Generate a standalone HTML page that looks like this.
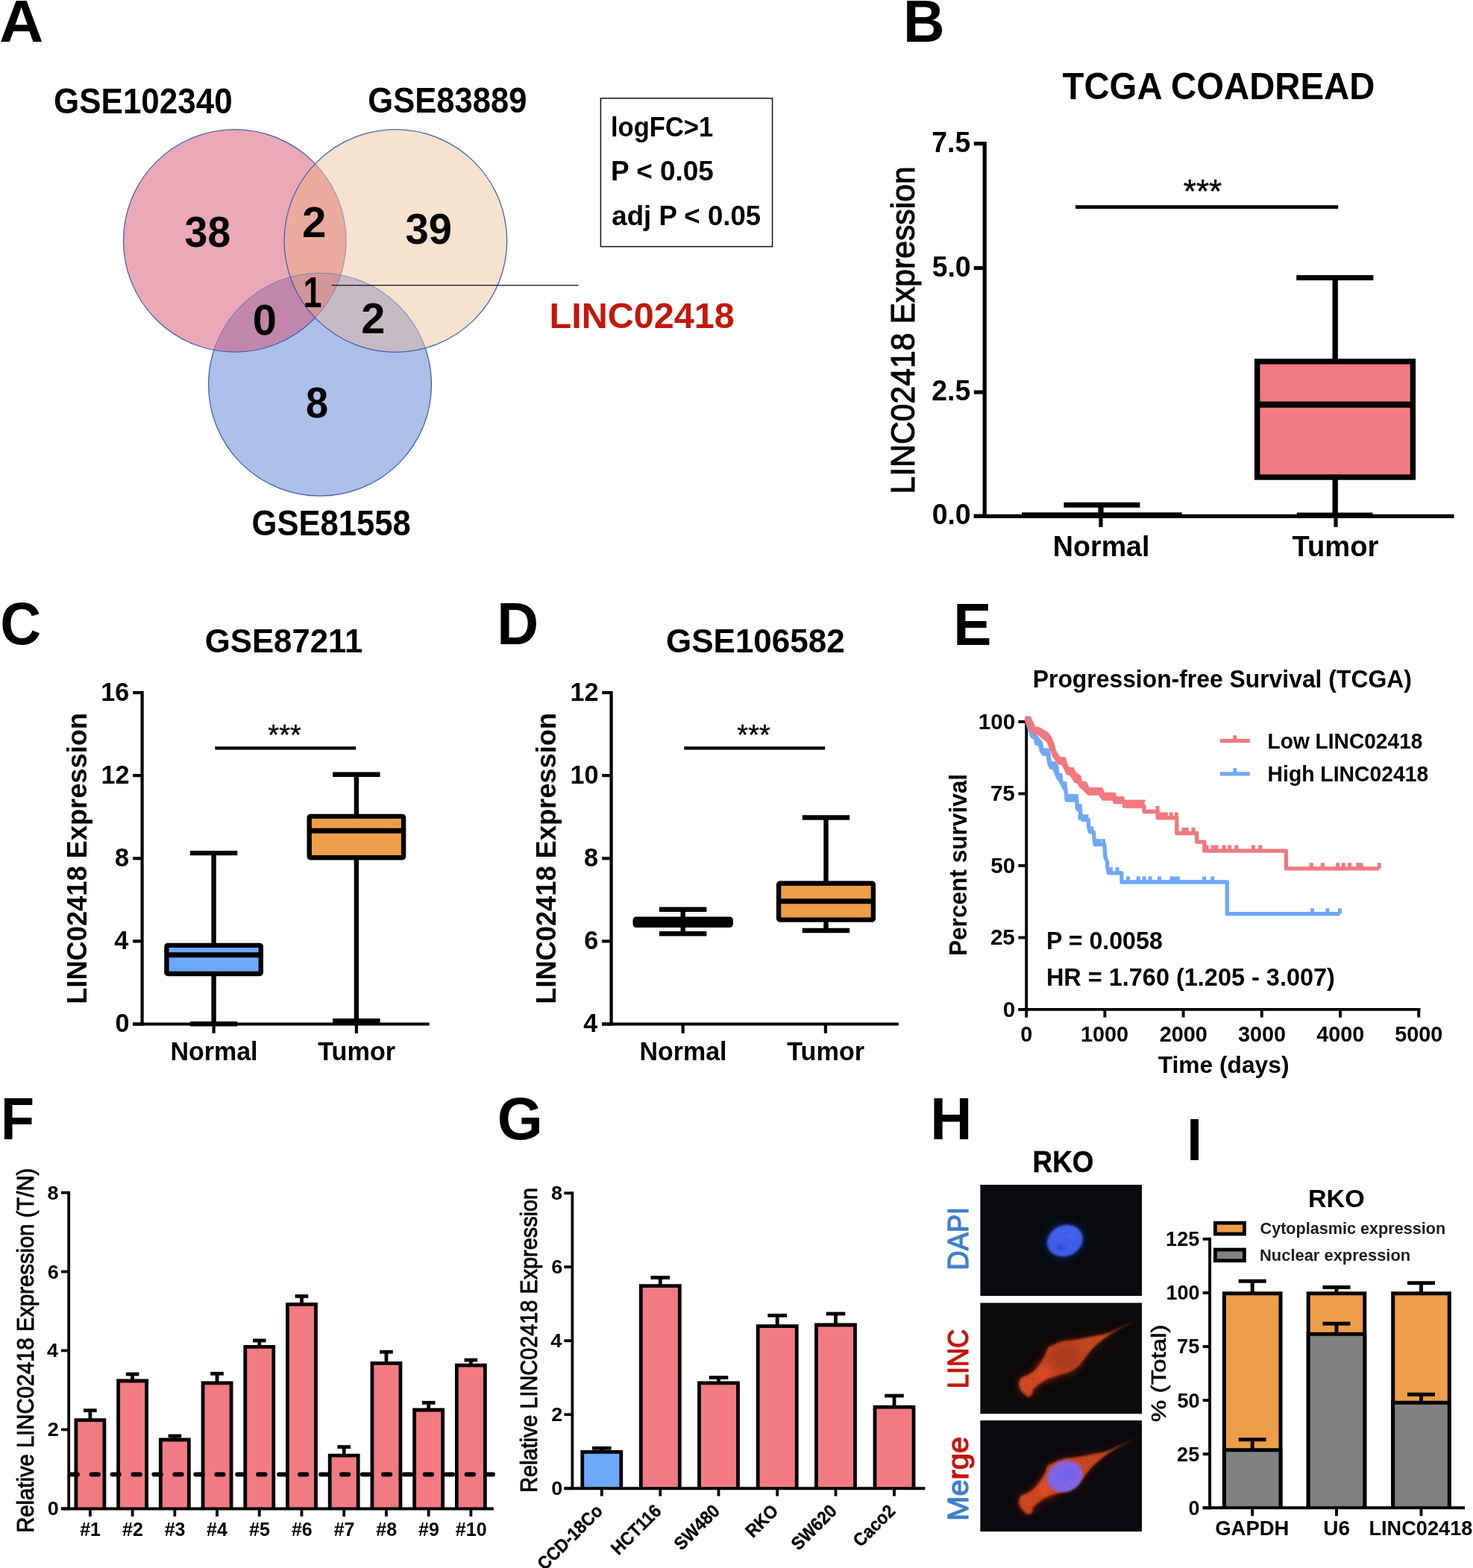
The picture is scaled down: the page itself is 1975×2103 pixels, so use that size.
<!DOCTYPE html>
<html lang="en">
<head>
<meta charset="utf-8">
<title>LINC02418 expression in colorectal cancer</title>
<style>
html,body{margin:0;padding:0;background:#fff;}
body{width:1975px;height:2103px;}
svg{display:block;font-family:'Liberation Sans', Arial, Helvetica, sans-serif;}
text{white-space:pre;}
</style>
</head>
<body>
<svg width="1975" height="2103" viewBox="0 0 1975 2103" role="img" aria-label="LINC02418 expression figure, panels A to I">
<rect width="1975" height="2103" fill="#fff"/>
<g id="panelA">
<text transform="translate(-1.05 56) scale(1.0299 1)" font-size="79.71" font-weight="bold" fill="#000">A</text>
<defs><clipPath id="cP"><circle cx="314.8" cy="322.9" r="149.3"/></clipPath><clipPath id="cB"><circle cx="530.4" cy="323" r="149.3"/></clipPath></defs>
<circle cx="314.8" cy="322.9" r="149.3" fill="#EBA8B6"/>
<circle cx="530.4" cy="323" r="149.3" fill="#F5E2CF"/>
<circle cx="429" cy="515.7" r="149.5" fill="#ADC0E9"/>
<circle cx="530.4" cy="323" r="149.3" fill="#EBAB9F" clip-path="url(#cP)"/>
<circle cx="429" cy="515.7" r="149.5" fill="#C286AC" clip-path="url(#cP)"/>
<circle cx="429" cy="515.7" r="149.5" fill="#C8BAC4" clip-path="url(#cB)"/>
<g clip-path="url(#cP)">
<circle cx="429" cy="515.7" r="149.5" fill="#D3969A" clip-path="url(#cB)"/>
</g>
<defs><mask id="mU" maskUnits="userSpaceOnUse" x="150" y="160" width="560" height="520"><rect x="150" y="160" width="560" height="520" fill="#fff"/><circle cx="314.8" cy="322.9" r="148.7" fill="#707070"/><circle cx="530.4" cy="323" r="148.7" fill="#707070"/></mask><mask id="mP" maskUnits="userSpaceOnUse" x="150" y="160" width="560" height="520"><rect x="150" y="160" width="560" height="520" fill="#fff"/><circle cx="530.4" cy="323" r="148.7" fill="#707070"/></mask></defs>
<circle cx="429" cy="515.7" r="149.5" fill="none" stroke="#3558AC" stroke-width="1.25" stroke-opacity="0.95" mask="url(#mU)"/>
<circle cx="314.8" cy="322.9" r="149.3" fill="none" stroke="#3558AC" stroke-width="1.25" stroke-opacity="0.95" mask="url(#mP)"/>
<circle cx="530.4" cy="323" r="149.3" fill="none" stroke="#3558AC" stroke-width="1.25" stroke-opacity="0.95"/>
<line x1="444.6" y1="382.6" x2="775.4" y2="382.6" stroke="#111" stroke-width="1.3"/>
<text transform="translate(72.04 151.5) scale(0.9197 1)" font-size="47.83" font-weight="bold" fill="#000">GSE102340</text>
<text transform="translate(493.26 151.3) scale(0.9119 1)" font-size="47.83" font-weight="bold" fill="#000">GSE83889</text>
<text transform="translate(337.56 718.3) scale(0.9118 1)" font-size="47.83" font-weight="bold" fill="#000">GSE81558</text>
<text transform="translate(247.62 330.7) scale(0.9549 1)" font-size="57.97" font-weight="bold" fill="#000">38</text>
<text transform="translate(404.96 318) scale(1.0063 1)" font-size="57.97" font-weight="bold" fill="#000">2</text>
<text transform="translate(543.6 327) scale(0.9693 1)" font-size="57.97" font-weight="bold" fill="#000">39</text>
<text transform="translate(406.56 411.6) scale(0.799 1)" font-size="56.52" font-weight="bold" fill="#000">1</text>
<text transform="translate(338.68 449) scale(0.9987 1)" font-size="57.97" font-weight="bold" fill="#000">0</text>
<text transform="translate(484.28 447) scale(0.9955 1)" font-size="57.97" font-weight="bold" fill="#000">2</text>
<text transform="translate(409.98 560.3) scale(0.9339 1)" font-size="57.97" font-weight="bold" fill="#000">8</text>
<rect x="805.4" y="131.8" width="230.2" height="198.9" fill="#fff" stroke="#111" stroke-width="1.5"/>
<text transform="translate(818.98 183.1) scale(0.917 1)" font-size="37.68" font-weight="bold" fill="#000">logFC&gt;1</text>
<text transform="translate(819 242) scale(0.9803 1)" font-size="37.68" font-weight="bold" fill="#000">P &lt; 0.05</text>
<text transform="translate(820.3 301.7) scale(0.9724 1)" font-size="37.68" font-weight="bold" fill="#000">adj P &lt; 0.05</text>
<text transform="translate(736.54 440.2)" font-size="48.55" font-weight="bold" fill="#C4170C">LINC02418</text>
</g>
<g id="panelB">
<text transform="translate(1210.99 56) scale(0.9666 1)" font-size="79.71" font-weight="bold" fill="#000">B</text>
<text transform="translate(1424.53 133.3) scale(0.944 1)" font-size="50.14" font-weight="bold" fill="#000">TCGA COADREAD</text>
<line x1="1320.2" y1="190" x2="1320.2" y2="694.9" stroke="#000" stroke-width="5.2"/>
<line x1="1305.8" y1="192.6" x2="1320.2" y2="192.6" stroke="#000" stroke-width="5.2"/>
<text transform="translate(1249.28 203.6) scale(0.965 1)" font-size="38.8" font-weight="bold" fill="#000">7.5</text>
<line x1="1305.8" y1="359.5" x2="1320.2" y2="359.5" stroke="#000" stroke-width="5.2"/>
<text transform="translate(1249.65 370.5) scale(0.965 1)" font-size="38.8" font-weight="bold" fill="#000">5.0</text>
<line x1="1305.8" y1="526" x2="1320.2" y2="526" stroke="#000" stroke-width="5.2"/>
<text transform="translate(1249.28 537) scale(0.965 1)" font-size="38.8" font-weight="bold" fill="#000">2.5</text>
<line x1="1305.8" y1="692.3" x2="1320.2" y2="692.3" stroke="#000" stroke-width="5.2"/>
<text transform="translate(1249.65 703.3) scale(0.965 1)" font-size="38.8" font-weight="bold" fill="#000">0.0</text>
<line x1="1305.8" y1="692.3" x2="1949.6" y2="692.3" stroke="#000" stroke-width="5.2"/>
<line x1="1476" y1="692.3" x2="1476" y2="706.9" stroke="#000" stroke-width="5.2"/>
<line x1="1791" y1="692.3" x2="1791" y2="706.9" stroke="#000" stroke-width="5.2"/>
<text transform="translate(1225.6 662.42) rotate(-90) scale(0.9596 1)" font-size="44.5" font-weight="normal" fill="#000" stroke="#000" stroke-width="1.1" stroke-linejoin="round">LINC02418 Expression</text>
<text transform="translate(1586.87 271.5)" font-size="44" font-weight="normal" fill="#000" stroke="#000" stroke-width="0.5" stroke-linejoin="round">***</text>
<line x1="1442" y1="277.6" x2="1794.2" y2="277.6" stroke="#000" stroke-width="4.8"/>
<line x1="1476" y1="677.3" x2="1476" y2="692" stroke="#000" stroke-width="7.2"/>
<line x1="1426.4" y1="677.3" x2="1528.4" y2="677.3" stroke="#000" stroke-width="7"/>
<line x1="1370" y1="690.3" x2="1584.6" y2="690.3" stroke="#000" stroke-width="6"/>
<line x1="1790.2" y1="372.4" x2="1790.2" y2="692" stroke="#000" stroke-width="7.4"/>
<line x1="1738.3" y1="372.4" x2="1841.4" y2="372.4" stroke="#000" stroke-width="7"/>
<line x1="1738.8" y1="690.6" x2="1840.5" y2="690.6" stroke="#000" stroke-width="6"/>
<rect x="1685.7" y="484.8" width="208.7" height="155.2" fill="#F27B83" stroke="#000" stroke-width="7.4"/>
<line x1="1685" y1="542.7" x2="1895" y2="542.7" stroke="#000" stroke-width="8.2"/>
<text transform="translate(1411.85 745.6) scale(0.9802 1)" font-size="38.41" font-weight="bold" fill="#000">Normal</text>
<text transform="translate(1732.52 745.5) scale(0.9939 1)" font-size="38.41" font-weight="bold" fill="#000">Tumor</text>
</g>
<g id="panelC">
<text transform="translate(0.16 864.4) scale(0.9538 1)" font-size="79.71" font-weight="bold" fill="#000">C</text>
<text transform="translate(274.65 875.4)" font-size="43.77" font-weight="bold" fill="#000">GSE87211</text>
<line x1="190.6" y1="926.9" x2="190.6" y2="1375.6" stroke="#000" stroke-width="4.2"/>
<line x1="178.2" y1="929" x2="190.6" y2="929" stroke="#000" stroke-width="4.2"/>
<text transform="translate(135.23 939.8)" font-size="34.2" font-weight="bold" fill="#000">16</text>
<line x1="178.2" y1="1040.1" x2="190.6" y2="1040.1" stroke="#000" stroke-width="4.2"/>
<text transform="translate(135.41 1050.9)" font-size="34.2" font-weight="bold" fill="#000">12</text>
<line x1="178.2" y1="1151.3" x2="190.6" y2="1151.3" stroke="#000" stroke-width="4.2"/>
<text transform="translate(154.04 1162.1)" font-size="34.2" font-weight="bold" fill="#000">8</text>
<line x1="178.2" y1="1262.4" x2="190.6" y2="1262.4" stroke="#000" stroke-width="4.2"/>
<text transform="translate(153.19 1273.2)" font-size="34.2" font-weight="bold" fill="#000">4</text>
<line x1="178.2" y1="1373.5" x2="190.6" y2="1373.5" stroke="#000" stroke-width="4.2"/>
<text transform="translate(154.39 1384.3)" font-size="34.2" font-weight="bold" fill="#000">0</text>
<line x1="178.2" y1="1373.5" x2="575.8" y2="1373.5" stroke="#000" stroke-width="4.2"/>
<line x1="286.6" y1="1373.5" x2="286.6" y2="1385.9" stroke="#000" stroke-width="4.2"/>
<line x1="477.9" y1="1373.5" x2="477.9" y2="1385.9" stroke="#000" stroke-width="4.2"/>
<text transform="translate(115.7 1346.76) rotate(-90) scale(0.9958 1)" font-size="36.4" font-weight="bold" fill="#000">LINC02418 Expression</text>
<text transform="translate(359.37 998.6)" font-size="38" font-weight="normal" fill="#000" stroke="#000" stroke-width="0.4" stroke-linejoin="round">***</text>
<line x1="288.3" y1="1003.4" x2="477.2" y2="1003.4" stroke="#000" stroke-width="4.4"/>
<text transform="translate(228.49 1421.6) scale(0.9456 1)" font-size="35.94" font-weight="bold" fill="#000">Normal</text>
<text transform="translate(426.16 1421.6) scale(0.953 1)" font-size="35.94" font-weight="bold" fill="#000">Tumor</text>
<line x1="286.6" y1="1144.1" x2="286.6" y2="1373.2" stroke="#000" stroke-width="6.4"/>
<line x1="254.9" y1="1144.1" x2="318.3" y2="1144.1" stroke="#000" stroke-width="6.4"/>
<line x1="254.9" y1="1373.2" x2="318.3" y2="1373.2" stroke="#000" stroke-width="6.4"/>
<rect x="223.4" y="1267.9" width="126.4" height="38.1" fill="#6EA8FB" stroke="#000" stroke-width="6.4" rx="1.6"/>
<line x1="223.4" y1="1280.8" x2="349.8" y2="1280.8" stroke="#000" stroke-width="7"/>
<line x1="477.9" y1="1038.7" x2="477.9" y2="1369.3" stroke="#000" stroke-width="6.4"/>
<line x1="446.2" y1="1038.7" x2="509.6" y2="1038.7" stroke="#000" stroke-width="6.4"/>
<line x1="446.2" y1="1369.3" x2="509.6" y2="1369.3" stroke="#000" stroke-width="6.4"/>
<rect x="414.7" y="1094.9" width="126.4" height="55.3" fill="#EE9D49" stroke="#000" stroke-width="6.4" rx="1.6"/>
<line x1="414.7" y1="1114.2" x2="541.1" y2="1114.2" stroke="#000" stroke-width="7"/>
</g>
<g id="panelD">
<text transform="translate(666.37 864.4) scale(0.971 1)" font-size="79.71" font-weight="bold" fill="#000">D</text>
<text transform="translate(893.04 875.4) scale(1.005 1)" font-size="43.77" font-weight="bold" fill="#000">GSE106582</text>
<line x1="819.6" y1="926.9" x2="819.6" y2="1375.6" stroke="#000" stroke-width="4.2"/>
<line x1="807.2" y1="929" x2="819.6" y2="929" stroke="#000" stroke-width="4.2"/>
<text transform="translate(764.41 939.8)" font-size="34.2" font-weight="bold" fill="#000">12</text>
<line x1="807.2" y1="1040.1" x2="819.6" y2="1040.1" stroke="#000" stroke-width="4.2"/>
<text transform="translate(764.41 1050.9)" font-size="34.2" font-weight="bold" fill="#000">10</text>
<line x1="807.2" y1="1151.3" x2="819.6" y2="1151.3" stroke="#000" stroke-width="4.2"/>
<text transform="translate(783.05 1162.1)" font-size="34.2" font-weight="bold" fill="#000">8</text>
<line x1="807.2" y1="1262.4" x2="819.6" y2="1262.4" stroke="#000" stroke-width="4.2"/>
<text transform="translate(783.22 1273.2)" font-size="34.2" font-weight="bold" fill="#000">6</text>
<line x1="807.2" y1="1373.5" x2="819.6" y2="1373.5" stroke="#000" stroke-width="4.2"/>
<text transform="translate(782.19 1384.3)" font-size="34.2" font-weight="bold" fill="#000">4</text>
<line x1="807.2" y1="1373.5" x2="1204.8" y2="1373.5" stroke="#000" stroke-width="4.2"/>
<line x1="915.6" y1="1373.5" x2="915.6" y2="1385.9" stroke="#000" stroke-width="4.2"/>
<line x1="1106.9" y1="1373.5" x2="1106.9" y2="1385.9" stroke="#000" stroke-width="4.2"/>
<text transform="translate(745.3 1346.76) rotate(-90) scale(0.9958 1)" font-size="36.4" font-weight="bold" fill="#000">LINC02418 Expression</text>
<text transform="translate(988.36 998.6)" font-size="38" font-weight="normal" fill="#000" stroke="#000" stroke-width="0.4" stroke-linejoin="round">***</text>
<line x1="917.3" y1="1003.4" x2="1106.2" y2="1003.4" stroke="#000" stroke-width="4.4"/>
<text transform="translate(857.49 1421.6) scale(0.9456 1)" font-size="35.94" font-weight="bold" fill="#000">Normal</text>
<text transform="translate(1055.16 1421.6) scale(0.953 1)" font-size="35.94" font-weight="bold" fill="#000">Tumor</text>
<line x1="915.7" y1="1219.7" x2="915.7" y2="1252.2" stroke="#000" stroke-width="6.4"/>
<line x1="884" y1="1219.7" x2="947.4" y2="1219.7" stroke="#000" stroke-width="6.4"/>
<line x1="884" y1="1252.2" x2="947.4" y2="1252.2" stroke="#000" stroke-width="6.4"/>
<rect x="851.7" y="1232.6" width="128" height="8.3" fill="#000" stroke="#000" stroke-width="6.4" rx="1.6"/>
<line x1="851.7" y1="1236.8" x2="979.7" y2="1236.8" stroke="#000" stroke-width="7"/>
<line x1="1107.5" y1="1096.5" x2="1107.5" y2="1248" stroke="#000" stroke-width="6.4"/>
<line x1="1075.8" y1="1096.5" x2="1139.2" y2="1096.5" stroke="#000" stroke-width="6.4"/>
<line x1="1075.8" y1="1248" x2="1139.2" y2="1248" stroke="#000" stroke-width="6.4"/>
<rect x="1044.1" y="1184.8" width="126.8" height="48.8" fill="#EE9D49" stroke="#000" stroke-width="6.4" rx="1.6"/>
<line x1="1044.1" y1="1208.8" x2="1170.9" y2="1208.8" stroke="#000" stroke-width="7"/>
</g>
<g id="panelE">
<text transform="translate(1278.32 865) scale(0.9614 1)" font-size="79.71" font-weight="bold" fill="#000">E</text>
<text transform="translate(1384.73 922) scale(0.9807 1)" font-size="32.5" font-weight="bold" fill="#000">Progression-free Survival (TCGA)</text>
<line x1="1376.2" y1="966.05" x2="1376.2" y2="1355.95" stroke="#000" stroke-width="3.9"/>
<line x1="1365.4" y1="968" x2="1376.2" y2="968" stroke="#000" stroke-width="3.9"/>
<text transform="translate(1311.75 977.5)" font-size="29.6" font-weight="bold" fill="#000">100</text>
<line x1="1365.4" y1="1064.5" x2="1376.2" y2="1064.5" stroke="#000" stroke-width="3.9"/>
<text transform="translate(1327.88 1074)" font-size="29.6" font-weight="bold" fill="#000">75</text>
<line x1="1365.4" y1="1161" x2="1376.2" y2="1161" stroke="#000" stroke-width="3.9"/>
<text transform="translate(1328.33 1170.5)" font-size="29.6" font-weight="bold" fill="#000">50</text>
<line x1="1365.4" y1="1257.5" x2="1376.2" y2="1257.5" stroke="#000" stroke-width="3.9"/>
<text transform="translate(1327.88 1267)" font-size="29.6" font-weight="bold" fill="#000">25</text>
<line x1="1365.4" y1="1354" x2="1376.2" y2="1354" stroke="#000" stroke-width="3.9"/>
<text transform="translate(1344.76 1363.5)" font-size="29.6" font-weight="bold" fill="#000">0</text>
<line x1="1365.4" y1="1353.9" x2="1904.4" y2="1353.9" stroke="#000" stroke-width="3.9"/>
<line x1="1376.2" y1="1353.9" x2="1376.2" y2="1364.6" stroke="#000" stroke-width="3.9"/>
<text transform="translate(1368.21 1396.7)" font-size="28.8" font-weight="bold" fill="#000">0</text>
<line x1="1481.4" y1="1353.9" x2="1481.4" y2="1364.6" stroke="#000" stroke-width="3.9"/>
<text transform="translate(1449 1396.7)" font-size="28.8" font-weight="bold" fill="#000">1000</text>
<line x1="1586.6" y1="1353.9" x2="1586.6" y2="1364.6" stroke="#000" stroke-width="3.9"/>
<text transform="translate(1554.63 1396.7)" font-size="28.8" font-weight="bold" fill="#000">2000</text>
<line x1="1691.8" y1="1353.9" x2="1691.8" y2="1364.6" stroke="#000" stroke-width="3.9"/>
<text transform="translate(1659.98 1396.7)" font-size="28.8" font-weight="bold" fill="#000">3000</text>
<line x1="1797" y1="1353.9" x2="1797" y2="1364.6" stroke="#000" stroke-width="3.9"/>
<text transform="translate(1765.32 1396.7)" font-size="28.8" font-weight="bold" fill="#000">4000</text>
<line x1="1902.2" y1="1353.9" x2="1902.2" y2="1364.6" stroke="#000" stroke-width="3.9"/>
<text transform="translate(1870.3 1396.7)" font-size="28.8" font-weight="bold" fill="#000">5000</text>
<text transform="translate(1552.68 1438.6) scale(1.0243 1)" font-size="31" font-weight="bold" fill="#000">Time (days)</text>
<text transform="translate(1295.6 1282.06) rotate(-90) scale(0.9582 1)" font-size="33" font-weight="bold" fill="#000">Percent survival</text>
<text transform="translate(1402.91 1273.4) scale(0.9865 1)" font-size="32.6" font-weight="bold" fill="#000">P = 0.0058</text>
<text transform="translate(1402.89 1321.6) scale(0.9963 1)" font-size="32.6" font-weight="bold" fill="#000">HR = 1.760 (1.205 - 3.007)</text>
<path d="M1375 960.71 L1381.85 960.71 L1385.71 978.28 L1390.85 986.85 L1397.71 994.99 L1398.99 1003.56 L1407.13 1003.99 L1409.7 1021.13 L1415.7 1021.56 L1419.13 1027.56 L1419.99 1036.98 L1424.27 1037.41 L1425.13 1048.12 L1429.84 1048.55 L1431.99 1065.26 L1445.27 1065.26 L1446.55 1078.55 L1450.41 1078.97 L1450.84 1090.03 L1446.55 1090.03 L1442.27 1085.4 L1441.41 1075.55 L1429.41 1075.55 L1427.7 1073.4 L1426.84 1061.41 L1423.42 1055.41 L1419.99 1048.55 L1416.56 1044.27 L1414.85 1039.98 L1411.42 1031.84 L1407.99 1031.41 L1404.56 1025.41 L1402.85 1013.84 L1397.71 1013.42 L1394.28 1008.27 L1392.56 1000.56 L1387.42 998.85 L1386.57 991.99 L1382.28 989.42 L1377.14 975.71 L1375 967.14Z" fill="#6EA8F7" stroke="#6EA8F7" stroke-width="0.6" stroke-linejoin="round"/>
<path d="M1444.4 1080 L1444.5 1084 L1448.6 1087 L1448.6 1093 L1452 1099.7 L1459.4 1099.7 L1459.4 1108 L1461.5 1115.9 L1466.3 1115.9 L1467 1125 L1468.3 1132.7 L1480.8 1132.7 L1482 1150 L1484.6 1156 L1484.6 1163 L1486.3 1170.8 L1503.9 1170.8 L1503.9 1183 L1645.3 1183 L1645.3 1225.7 L1796.4 1225.7" fill="none" stroke="#6EA8F7" stroke-width="5.3" stroke-linejoin="round"/>
<path d="M1445.5 1099.7v-7.5h5v7.5zM1450.5 1099.7v-7.5h5v7.5zM1454.4 1099.7v-7.5h5v7.5z" fill="#6EA8F7"/>
<path d="M1461.3 1115.9v-7.5h5v7.5z" fill="#6EA8F7"/>
<path d="M1467.7 1132.7v-7.5h5v7.5zM1471.5 1132.7v-7.5h5v7.5zM1477 1132.7v-7.5h5v7.5z" fill="#6EA8F7"/>
<path d="M1486.9 1170.8v-7.5h5v7.5zM1495.5 1170.8v-7.5h5v7.5z" fill="#6EA8F7"/>
<path d="M1510.1 1183v-7.5h5v7.5zM1523.8 1183v-7.5h5v7.5zM1531.5 1183v-7.5h5v7.5zM1539.5 1183v-7.5h5v7.5zM1552 1183v-7.5h5v7.5zM1568.5 1183v-7.5h5v7.5zM1572.9 1183v-7.5h5v7.5zM1576.8 1183v-7.5h5v7.5zM1612.1 1183v-7.5h5v7.5zM1623.3 1183v-7.5h5v7.5z" fill="#6EA8F7"/>
<path d="M1757 1225.7v-7.5h5v7.5zM1777.4 1225.7v-7.5h5v7.5zM1793.9 1225.7v-7.5h5v7.5z" fill="#6EA8F7"/>
<path d="M1374.14 962 L1381.85 961.57 L1388.28 974.85 L1393.42 975.28 L1405.42 982.56 L1408.85 986.85 L1413.99 998.85 L1415.7 1006.56 L1421.7 1015.56 L1428.56 1015.56 L1431.13 1024.56 L1433.7 1029.27 L1438.84 1029.27 L1443.13 1036.13 L1449.13 1040.41 L1450.84 1048.12 L1456.84 1048.55 L1460.27 1056.26 L1477.83 1056.26 L1481.26 1063.12 L1495.4 1063.12 L1497.12 1068.26 L1506.54 1068.26 L1508.26 1072.98 L1535.68 1072.98 L1531.39 1083.69 L1509.11 1083.69 L1505.69 1078.12 L1493.69 1078.12 L1491.12 1073.4 L1478.26 1073.4 L1473.12 1066.55 L1458.55 1066.55 L1450.84 1058.41 L1447.41 1056.26 L1444.84 1050.69 L1440.56 1049.41 L1434.56 1039.98 L1430.27 1039.13 L1423.84 1025.84 L1419.13 1025.41 L1411.42 1015.13 L1403.71 995.42 L1390.85 985.14 L1385.71 985.14 L1376.28 972.28 L1374.14 967.14Z" fill="#F0787F" stroke="#F0787F" stroke-width="0.6" stroke-linejoin="round"/>
<path d="M1505 1080.8 L1533.9 1080.8 L1533.9 1088.5 L1552.2 1088.5 L1552.2 1096.9 L1577.8 1096.9 L1577.8 1117.5 L1604.7 1117.5 L1604.7 1129.1 L1614.8 1129.1 L1614.8 1141.1 L1724.4 1141.1 L1724.4 1164.8 L1849.3 1164.8" fill="none" stroke="#F0787F" stroke-width="5.3" stroke-linejoin="round"/>
<path d="M1549.5 1088.5v-7.5h5v7.5z" fill="#F0787F"/>
<path d="M1554.8 1096.9v-7.5h5v7.5zM1557.9 1096.9v-7.5h5v7.5zM1561 1096.9v-7.5h5v7.5zM1567.7 1096.9v-7.5h5v7.5zM1574.8 1096.9v-7.5h5v7.5z" fill="#F0787F"/>
<path d="M1584.4 1117.5v-7.5h5v7.5zM1588.8 1117.5v-7.5h5v7.5zM1597.5 1117.5v-7.5h5v7.5z" fill="#F0787F"/>
<path d="M1615.6 1141.1v-7.5h5v7.5zM1623.5 1141.1v-7.5h5v7.5zM1628.5 1141.1v-7.5h5v7.5zM1638.6 1141.1v-7.5h5v7.5zM1646.2 1141.1v-7.5h5v7.5zM1655.3 1141.1v-7.5h5v7.5zM1677.9 1141.1v-7.5h5v7.5zM1687.3 1141.1v-7.5h5v7.5z" fill="#F0787F"/>
<path d="M1755.8 1164.8v-7.5h5v7.5zM1770.9 1164.8v-7.5h5v7.5zM1791.1 1164.8v-7.5h5v7.5zM1798.7 1164.8v-7.5h5v7.5zM1807.1 1164.8v-7.5h5v7.5zM1818.4 1164.8v-7.5h5v7.5zM1822.5 1164.8v-7.5h5v7.5zM1846.8 1164.8v-7.5h5v7.5z" fill="#F0787F"/>
<line x1="1635.7" y1="993.7" x2="1675.8" y2="993.7" stroke="#F0787F" stroke-width="5.3"/>
<path d="M1653.3 993.7v-7.5h5v7.5z" fill="#F0787F"/>
<line x1="1635.7" y1="1037.8" x2="1675.8" y2="1037.8" stroke="#6EA8F7" stroke-width="5.3"/>
<path d="M1653.3 1037.8v-7.5h5v7.5z" fill="#6EA8F7"/>
<text transform="translate(1699.57 1003.6) scale(0.9439 1)" font-size="29.8" font-weight="bold" fill="#000">Low LINC02418</text>
<text transform="translate(1699.56 1048) scale(0.9505 1)" font-size="29.8" font-weight="bold" fill="#000">High LINC02418</text>
</g>
<g id="panelF">
<text transform="translate(1.01 1527.6) scale(0.9249 1)" font-size="79.71" font-weight="bold" fill="#000">F</text>
<text transform="translate(45.3 2055.84) rotate(-90) scale(0.9256 1)" font-size="31.6" font-weight="normal" fill="#000" stroke="#000" stroke-width="0.9" stroke-linejoin="round">Relative LINC02418 Expression (T/N)</text>
<line x1="120.9" y1="1891.7" x2="120.9" y2="1904.3" stroke="#000" stroke-width="4.8"/>
<line x1="112.1" y1="1891.7" x2="129.7" y2="1891.7" stroke="#000" stroke-width="4.8"/>
<path d="M101.9 2023.4 V1904.7 H139.9 V2023.4" fill="#F27B83" stroke="#000" stroke-width="4.8" stroke-linejoin="miter"/>
<line x1="120.9" y1="2023.4" x2="120.9" y2="2033.9" stroke="#000" stroke-width="3.8"/>
<text transform="translate(107.15 2060)" font-size="25" font-weight="bold" fill="#000">#1</text>
<line x1="177.62" y1="1843" x2="177.62" y2="1851.6" stroke="#000" stroke-width="4.8"/>
<line x1="168.82" y1="1843" x2="186.42" y2="1843" stroke="#000" stroke-width="4.8"/>
<path d="M158.62 2023.4 V1852 H196.62 V2023.4" fill="#F27B83" stroke="#000" stroke-width="4.8" stroke-linejoin="miter"/>
<line x1="177.62" y1="2023.4" x2="177.62" y2="2033.9" stroke="#000" stroke-width="3.8"/>
<text transform="translate(164.06 2060)" font-size="25" font-weight="bold" fill="#000">#2</text>
<line x1="234.34" y1="1926" x2="234.34" y2="1930.6" stroke="#000" stroke-width="4.8"/>
<line x1="225.54" y1="1926" x2="243.14" y2="1926" stroke="#000" stroke-width="4.8"/>
<path d="M215.34 2023.4 V1931 H253.34 V2023.4" fill="#F27B83" stroke="#000" stroke-width="4.8" stroke-linejoin="miter"/>
<line x1="234.34" y1="2023.4" x2="234.34" y2="2033.9" stroke="#000" stroke-width="3.8"/>
<text transform="translate(220.72 2060)" font-size="25" font-weight="bold" fill="#000">#3</text>
<line x1="291.06" y1="1842.3" x2="291.06" y2="1854.5" stroke="#000" stroke-width="4.8"/>
<line x1="282.26" y1="1842.3" x2="299.86" y2="1842.3" stroke="#000" stroke-width="4.8"/>
<path d="M272.06 2023.4 V1854.9 H310.06 V2023.4" fill="#F27B83" stroke="#000" stroke-width="4.8" stroke-linejoin="miter"/>
<line x1="291.06" y1="2023.4" x2="291.06" y2="2033.9" stroke="#000" stroke-width="3.8"/>
<text transform="translate(277.06 2060)" font-size="25" font-weight="bold" fill="#000">#4</text>
<line x1="347.78" y1="1797.9" x2="347.78" y2="1806" stroke="#000" stroke-width="4.8"/>
<line x1="338.98" y1="1797.9" x2="356.58" y2="1797.9" stroke="#000" stroke-width="4.8"/>
<path d="M328.78 2023.4 V1806.4 H366.78 V2023.4" fill="#F27B83" stroke="#000" stroke-width="4.8" stroke-linejoin="miter"/>
<line x1="347.78" y1="2023.4" x2="347.78" y2="2033.9" stroke="#000" stroke-width="3.8"/>
<text transform="translate(334.03 2060)" font-size="25" font-weight="bold" fill="#000">#5</text>
<line x1="404.5" y1="1738.5" x2="404.5" y2="1748.9" stroke="#000" stroke-width="4.8"/>
<line x1="395.7" y1="1738.5" x2="413.3" y2="1738.5" stroke="#000" stroke-width="4.8"/>
<path d="M385.5 2023.4 V1749.3 H423.5 V2023.4" fill="#F27B83" stroke="#000" stroke-width="4.8" stroke-linejoin="miter"/>
<line x1="404.5" y1="2023.4" x2="404.5" y2="2033.9" stroke="#000" stroke-width="3.8"/>
<text transform="translate(390.88 2060)" font-size="25" font-weight="bold" fill="#000">#6</text>
<line x1="461.22" y1="1940.6" x2="461.22" y2="1951.7" stroke="#000" stroke-width="4.8"/>
<line x1="452.42" y1="1940.6" x2="470.02" y2="1940.6" stroke="#000" stroke-width="4.8"/>
<path d="M442.22 2023.4 V1952.1 H480.22 V2023.4" fill="#F27B83" stroke="#000" stroke-width="4.8" stroke-linejoin="miter"/>
<line x1="461.22" y1="2023.4" x2="461.22" y2="2033.9" stroke="#000" stroke-width="3.8"/>
<text transform="translate(447.66 2060)" font-size="25" font-weight="bold" fill="#000">#7</text>
<line x1="517.94" y1="1813.2" x2="517.94" y2="1827.9" stroke="#000" stroke-width="4.8"/>
<line x1="509.14" y1="1813.2" x2="526.74" y2="1813.2" stroke="#000" stroke-width="4.8"/>
<path d="M498.94 2023.4 V1828.3 H536.94 V2023.4" fill="#F27B83" stroke="#000" stroke-width="4.8" stroke-linejoin="miter"/>
<line x1="517.94" y1="2023.4" x2="517.94" y2="2033.9" stroke="#000" stroke-width="3.8"/>
<text transform="translate(504.25 2060)" font-size="25" font-weight="bold" fill="#000">#8</text>
<line x1="574.66" y1="1881.3" x2="574.66" y2="1890.6" stroke="#000" stroke-width="4.8"/>
<line x1="565.86" y1="1881.3" x2="583.46" y2="1881.3" stroke="#000" stroke-width="4.8"/>
<path d="M555.66 2023.4 V1891 H593.66 V2023.4" fill="#F27B83" stroke="#000" stroke-width="4.8" stroke-linejoin="miter"/>
<line x1="574.66" y1="2023.4" x2="574.66" y2="2033.9" stroke="#000" stroke-width="3.8"/>
<text transform="translate(561.03 2060)" font-size="25" font-weight="bold" fill="#000">#9</text>
<line x1="631.38" y1="1824.1" x2="631.38" y2="1830.8" stroke="#000" stroke-width="4.8"/>
<line x1="622.58" y1="1824.1" x2="640.18" y2="1824.1" stroke="#000" stroke-width="4.8"/>
<path d="M612.38 2023.4 V1831.2 H650.38 V2023.4" fill="#F27B83" stroke="#000" stroke-width="4.8" stroke-linejoin="miter"/>
<line x1="631.38" y1="2023.4" x2="631.38" y2="2033.9" stroke="#000" stroke-width="3.8"/>
<text transform="translate(610.82 2060)" font-size="25" font-weight="bold" fill="#000">#10</text>
<line x1="92.2" y1="1597.7" x2="92.2" y2="2025.3" stroke="#000" stroke-width="3.8"/>
<line x1="81.9" y1="1599.6" x2="92.2" y2="1599.6" stroke="#000" stroke-width="3.8"/>
<text transform="translate(63.6 1608.6) scale(1.04 1)" font-size="26" font-weight="bold" fill="#000">8</text>
<line x1="81.9" y1="1705.5" x2="92.2" y2="1705.5" stroke="#000" stroke-width="3.8"/>
<text transform="translate(63.74 1714.5) scale(1.04 1)" font-size="26" font-weight="bold" fill="#000">6</text>
<line x1="81.9" y1="1811.4" x2="92.2" y2="1811.4" stroke="#000" stroke-width="3.8"/>
<text transform="translate(62.93 1820.4) scale(1.04 1)" font-size="26" font-weight="bold" fill="#000">4</text>
<line x1="81.9" y1="1917.4" x2="92.2" y2="1917.4" stroke="#000" stroke-width="3.8"/>
<text transform="translate(63.87 1926.4) scale(1.04 1)" font-size="26" font-weight="bold" fill="#000">2</text>
<line x1="81.9" y1="2023.4" x2="92.2" y2="2023.4" stroke="#000" stroke-width="3.8"/>
<text transform="translate(63.87 2032.4) scale(1.04 1)" font-size="26" font-weight="bold" fill="#000">0</text>
<line x1="81.9" y1="2023.4" x2="661.8" y2="2023.4" stroke="#000" stroke-width="4"/>
<line x1="94.6" y1="1977.5" x2="661" y2="1977.4" stroke="#000" stroke-width="6" stroke-linecap="round" stroke-dasharray="9.4 18.55"/>
</g>
<g id="panelG">
<text transform="translate(666.66 1527.6) scale(0.9851 1)" font-size="79.71" font-weight="bold" fill="#000">G</text>
<text transform="translate(719.5 2001.81) rotate(-90) scale(0.9133 1)" font-size="31.6" font-weight="normal" fill="#000" stroke="#000" stroke-width="0.9" stroke-linejoin="round">Relative LINC02418 Expression</text>
<line x1="806.8" y1="1942.3" x2="806.8" y2="1947" stroke="#000" stroke-width="4.8"/>
<line x1="794" y1="1942.3" x2="819.6" y2="1942.3" stroke="#000" stroke-width="4.8"/>
<path d="M780.8 1996.2 V1947.4 H832.8 V1996.2" fill="#6EA8FB" stroke="#000" stroke-width="4.8" stroke-linejoin="miter"/>
<line x1="806.8" y1="1996.2" x2="806.8" y2="2006.6" stroke="#000" stroke-width="3.8"/>
<text transform="translate(809.6 2028) rotate(-45) scale(0.925 1)" text-anchor="end" font-size="24.5" font-weight="bold" stroke="#000" stroke-width="0.4">CCD-18Co</text>
<line x1="885.3" y1="1713.5" x2="885.3" y2="1724.2" stroke="#000" stroke-width="4.8"/>
<line x1="872.5" y1="1713.5" x2="898.1" y2="1713.5" stroke="#000" stroke-width="4.8"/>
<path d="M859.3 1996.2 V1724.6 H911.3 V1996.2" fill="#F27B83" stroke="#000" stroke-width="4.8" stroke-linejoin="miter"/>
<line x1="885.3" y1="1996.2" x2="885.3" y2="2006.6" stroke="#000" stroke-width="3.8"/>
<text transform="translate(888.1 2028) rotate(-45) scale(0.925 1)" text-anchor="end" font-size="24.5" font-weight="bold" stroke="#000" stroke-width="0.4">HCT116</text>
<line x1="963.5" y1="1847.6" x2="963.5" y2="1854.4" stroke="#000" stroke-width="4.8"/>
<line x1="950.7" y1="1847.6" x2="976.3" y2="1847.6" stroke="#000" stroke-width="4.8"/>
<path d="M937.5 1996.2 V1854.8 H989.5 V1996.2" fill="#F27B83" stroke="#000" stroke-width="4.8" stroke-linejoin="miter"/>
<line x1="963.5" y1="1996.2" x2="963.5" y2="2006.6" stroke="#000" stroke-width="3.8"/>
<text transform="translate(966.3 2028) rotate(-45) scale(0.925 1)" text-anchor="end" font-size="24.5" font-weight="bold" stroke="#000" stroke-width="0.4">SW480</text>
<line x1="1042.2" y1="1764.3" x2="1042.2" y2="1778.2" stroke="#000" stroke-width="4.8"/>
<line x1="1029.4" y1="1764.3" x2="1055" y2="1764.3" stroke="#000" stroke-width="4.8"/>
<path d="M1016.2 1996.2 V1778.6 H1068.2 V1996.2" fill="#F27B83" stroke="#000" stroke-width="4.8" stroke-linejoin="miter"/>
<line x1="1042.2" y1="1996.2" x2="1042.2" y2="2006.6" stroke="#000" stroke-width="3.8"/>
<text transform="translate(1045 2028) rotate(-45) scale(0.925 1)" text-anchor="end" font-size="24.5" font-weight="bold" stroke="#000" stroke-width="0.4">RKO</text>
<line x1="1120.5" y1="1762" x2="1120.5" y2="1776.6" stroke="#000" stroke-width="4.8"/>
<line x1="1107.7" y1="1762" x2="1133.3" y2="1762" stroke="#000" stroke-width="4.8"/>
<path d="M1094.5 1996.2 V1777 H1146.5 V1996.2" fill="#F27B83" stroke="#000" stroke-width="4.8" stroke-linejoin="miter"/>
<line x1="1120.5" y1="1996.2" x2="1120.5" y2="2006.6" stroke="#000" stroke-width="3.8"/>
<text transform="translate(1123.3 2028) rotate(-45) scale(0.925 1)" text-anchor="end" font-size="24.5" font-weight="bold" stroke="#000" stroke-width="0.4">SW620</text>
<line x1="1199" y1="1872" x2="1199" y2="1886.8" stroke="#000" stroke-width="4.8"/>
<line x1="1186.2" y1="1872" x2="1211.8" y2="1872" stroke="#000" stroke-width="4.8"/>
<path d="M1173 1996.2 V1887.2 H1225 V1996.2" fill="#F27B83" stroke="#000" stroke-width="4.8" stroke-linejoin="miter"/>
<line x1="1199" y1="1996.2" x2="1199" y2="2006.6" stroke="#000" stroke-width="3.8"/>
<text transform="translate(1201.8 2028) rotate(-45) scale(0.925 1)" text-anchor="end" font-size="24.5" font-weight="bold" stroke="#000" stroke-width="0.4">Caco2</text>
<line x1="767.4" y1="1598.3" x2="767.4" y2="1998.1" stroke="#000" stroke-width="3.8"/>
<line x1="756.4" y1="1600.2" x2="767.4" y2="1600.2" stroke="#000" stroke-width="3.8"/>
<text transform="translate(739 1609.2) scale(1.04 1)" font-size="26" font-weight="bold" fill="#000">8</text>
<line x1="756.4" y1="1699.2" x2="767.4" y2="1699.2" stroke="#000" stroke-width="3.8"/>
<text transform="translate(739.14 1708.2) scale(1.04 1)" font-size="26" font-weight="bold" fill="#000">6</text>
<line x1="756.4" y1="1798.2" x2="767.4" y2="1798.2" stroke="#000" stroke-width="3.8"/>
<text transform="translate(738.33 1807.2) scale(1.04 1)" font-size="26" font-weight="bold" fill="#000">4</text>
<line x1="756.4" y1="1897.2" x2="767.4" y2="1897.2" stroke="#000" stroke-width="3.8"/>
<text transform="translate(739.27 1906.2) scale(1.04 1)" font-size="26" font-weight="bold" fill="#000">2</text>
<line x1="756.4" y1="1996.2" x2="767.4" y2="1996.2" stroke="#000" stroke-width="3.8"/>
<text transform="translate(739.27 2005.2) scale(1.04 1)" font-size="26" font-weight="bold" fill="#000">0</text>
<line x1="756.4" y1="1996.2" x2="1240.4" y2="1996.2" stroke="#000" stroke-width="4"/>
</g>
<g id="panelH">
<text transform="translate(1247.24 1528) scale(0.976 1)" font-size="79.71" font-weight="bold" fill="#000">H</text>
<text transform="translate(1384.61 1572.4) scale(0.8926 1)" font-size="41.16" font-weight="bold" fill="#000" stroke="#000" stroke-width="0.5" stroke-linejoin="round">RKO</text>
<text transform="translate(1297.6 1703.5) rotate(-90) scale(0.9415 1)" font-size="38.55" font-weight="normal" fill="#3F7FCB" stroke="#3F7FCB" stroke-width="1.3" stroke-linejoin="round">DAPI</text>
<text transform="translate(1297.6 1862.19) rotate(-90) scale(0.9055 1)" font-size="38.55" font-weight="normal" fill="#C4170C" stroke="#C4170C" stroke-width="1.3" stroke-linejoin="round">LINC</text>
<text transform="translate(1297.6 2039.79) rotate(-90) scale(1.0338 1)" font-size="38.55" font-weight="normal" stroke-width="1.3" stroke-linejoin="round"><tspan fill="#3F7FCB" stroke="#3F7FCB">Me</tspan><tspan fill="#C4170C" stroke="#C4170C">rge</tspan></text>
<defs><filter id="b1" x="-30%" y="-30%" width="160%" height="160%"><feGaussianBlur stdDeviation="1.6"/></filter><filter id="b2" x="-30%" y="-30%" width="160%" height="160%"><feGaussianBlur stdDeviation="1.7"/></filter><filter id="b6" x="-100%" y="-100%" width="300%" height="300%"><feGaussianBlur stdDeviation="7"/></filter><radialGradient id="gTail" gradientUnits="userSpaceOnUse" cx="110" cy="78" r="112"><stop offset="0" stop-color="#fff"/><stop offset="0.62" stop-color="#fff"/><stop offset="1" stop-color="#fff" stop-opacity="0.18"/></radialGradient><mask id="mTail" maskUnits="userSpaceOnUse" x="0" y="0" width="217" height="149"><rect width="217" height="149" fill="url(#gTail)"/></mask><clipPath id="cImg"><rect width="217" height="149.2"/></clipPath><filter id="grain" x="0" y="0" width="100%" height="100%" color-interpolation-filters="sRGB"><feTurbulence type="fractalNoise" baseFrequency="0.55" numOctaves="2" seed="7" result="n"/><feColorMatrix in="n" type="matrix" values="0 0 0 0 1  0 0 0 0 1  0 0 0 0 1  1.6 0 0 0 -0.55"/><feGaussianBlur stdDeviation="0.5"/></filter><clipPath id="cCell"><path d="M211.5 23.6 C207.78 24.92 196.2 29.25 189.2 32.2 C182.2 35.15 176.05 39.12 169.5 41.3 C162.95 43.48 156.45 43.98 149.9 45.3 C143.35 46.62 136.77 48.12 130.2 49.2 C123.63 50.28 115.97 50.48 110.5 51.8 C105.03 53.12 100.68 55.57 97.4 57.1 C94.12 58.63 92.55 58.82 90.8 61 C89.05 63.18 88.65 66.7 86.9 70.2 C85.15 73.7 82.93 78.28 80.3 82 C77.67 85.72 74.17 89.87 71.1 92.5 C68.03 95.13 64.73 96.27 61.9 97.8 C59.07 99.33 55.73 99.52 54.1 101.7 C52.47 103.88 51.67 107.83 52.1 110.9 C52.53 113.97 54.62 117.58 56.7 120.1 C58.78 122.62 62.42 125.57 64.6 126 C66.78 126.43 68.72 124.35 69.8 122.7 C70.88 121.05 69.35 118.5 71.1 116.1 C72.85 113.7 77.02 110.7 80.3 108.3 C83.58 105.9 86.87 103.45 90.8 101.7 C94.73 99.95 99.52 99.12 103.9 97.8 C108.28 96.48 113.15 95.33 117.1 93.8 C121.05 92.27 124.33 91 127.6 88.6 C130.87 86.2 134.08 82.47 136.7 79.4 C139.32 76.33 140.88 73.27 143.3 70.2 C145.72 67.13 148.13 64.07 151.2 61 C154.27 57.93 158.2 54.63 161.7 51.8 C165.2 48.97 167.62 46.95 172.2 44 C176.78 41.05 182.65 37.38 189.2 34.1 C195.75 30.82 207.78 26.05 211.5 24.3 C215.22 22.55 215.22 22.28 211.5 23.6Z"/></clipPath><clipPath id="cNuc"><ellipse cx="113.7" cy="75" rx="24.3" ry="20.6" transform="rotate(-24 113.7 75)"/></clipPath></defs>
<g transform="translate(1314.2 1589)" clip-path="url(#cImg)">
<rect width="217" height="149.2" fill="#080A0E"/>
<ellipse cx="113.7" cy="75" rx="24.3" ry="20.6" transform="rotate(-24 113.7 75)" fill="#1B3CC0" filter="url(#b6)" opacity="0.55"/>
<ellipse cx="113.7" cy="75" rx="24.3" ry="20.6" transform="rotate(-24 113.7 75)" fill="#3759E8" filter="url(#b1)"/>
<g clip-path="url(#cNuc)" opacity="0.14" style="mix-blend-mode:screen"><rect width="217" height="149.2" filter="url(#grain)"/></g>
<ellipse cx="108" cy="84" rx="6" ry="4" fill="#2A48CC" filter="url(#b2)" opacity="0.7"/>
<ellipse cx="122" cy="68" rx="7" ry="4" fill="#4468F4" filter="url(#b2)" opacity="0.6"/>
</g>
<g transform="translate(1314.2 1747.2)" clip-path="url(#cImg)">
<rect width="217" height="149.2" fill="#0C0A0A"/>
<g mask="url(#mTail)" opacity="1">
<path d="M211.5 23.6 C207.78 24.92 196.2 29.25 189.2 32.2 C182.2 35.15 176.05 39.12 169.5 41.3 C162.95 43.48 156.45 43.98 149.9 45.3 C143.35 46.62 136.77 48.12 130.2 49.2 C123.63 50.28 115.97 50.48 110.5 51.8 C105.03 53.12 100.68 55.57 97.4 57.1 C94.12 58.63 92.55 58.82 90.8 61 C89.05 63.18 88.65 66.7 86.9 70.2 C85.15 73.7 82.93 78.28 80.3 82 C77.67 85.72 74.17 89.87 71.1 92.5 C68.03 95.13 64.73 96.27 61.9 97.8 C59.07 99.33 55.73 99.52 54.1 101.7 C52.47 103.88 51.67 107.83 52.1 110.9 C52.53 113.97 54.62 117.58 56.7 120.1 C58.78 122.62 62.42 125.57 64.6 126 C66.78 126.43 68.72 124.35 69.8 122.7 C70.88 121.05 69.35 118.5 71.1 116.1 C72.85 113.7 77.02 110.7 80.3 108.3 C83.58 105.9 86.87 103.45 90.8 101.7 C94.73 99.95 99.52 99.12 103.9 97.8 C108.28 96.48 113.15 95.33 117.1 93.8 C121.05 92.27 124.33 91 127.6 88.6 C130.87 86.2 134.08 82.47 136.7 79.4 C139.32 76.33 140.88 73.27 143.3 70.2 C145.72 67.13 148.13 64.07 151.2 61 C154.27 57.93 158.2 54.63 161.7 51.8 C165.2 48.97 167.62 46.95 172.2 44 C176.78 41.05 182.65 37.38 189.2 34.1 C195.75 30.82 207.78 26.05 211.5 24.3 C215.22 22.55 215.22 22.28 211.5 23.6Z" fill="#7A1E08" filter="url(#b6)" opacity="0.55"/>
<path d="M211.5 23.6 C207.78 24.92 196.2 29.25 189.2 32.2 C182.2 35.15 176.05 39.12 169.5 41.3 C162.95 43.48 156.45 43.98 149.9 45.3 C143.35 46.62 136.77 48.12 130.2 49.2 C123.63 50.28 115.97 50.48 110.5 51.8 C105.03 53.12 100.68 55.57 97.4 57.1 C94.12 58.63 92.55 58.82 90.8 61 C89.05 63.18 88.65 66.7 86.9 70.2 C85.15 73.7 82.93 78.28 80.3 82 C77.67 85.72 74.17 89.87 71.1 92.5 C68.03 95.13 64.73 96.27 61.9 97.8 C59.07 99.33 55.73 99.52 54.1 101.7 C52.47 103.88 51.67 107.83 52.1 110.9 C52.53 113.97 54.62 117.58 56.7 120.1 C58.78 122.62 62.42 125.57 64.6 126 C66.78 126.43 68.72 124.35 69.8 122.7 C70.88 121.05 69.35 118.5 71.1 116.1 C72.85 113.7 77.02 110.7 80.3 108.3 C83.58 105.9 86.87 103.45 90.8 101.7 C94.73 99.95 99.52 99.12 103.9 97.8 C108.28 96.48 113.15 95.33 117.1 93.8 C121.05 92.27 124.33 91 127.6 88.6 C130.87 86.2 134.08 82.47 136.7 79.4 C139.32 76.33 140.88 73.27 143.3 70.2 C145.72 67.13 148.13 64.07 151.2 61 C154.27 57.93 158.2 54.63 161.7 51.8 C165.2 48.97 167.62 46.95 172.2 44 C176.78 41.05 182.65 37.38 189.2 34.1 C195.75 30.82 207.78 26.05 211.5 24.3 C215.22 22.55 215.22 22.28 211.5 23.6Z" fill="#C33C17" filter="url(#b2)"/>
<ellipse cx="88" cy="92" rx="13" ry="9" fill="#EE4A22" filter="url(#b6)" opacity="0.8" transform="rotate(-35 88 92)"/>
<ellipse cx="66" cy="110" rx="10" ry="8" fill="#E04A22" filter="url(#b6)" opacity="0.45"/>
<g clip-path="url(#cCell)" opacity="0.16" style="mix-blend-mode:screen"><rect width="217" height="149.2" filter="url(#grain)"/></g>
</g>
<ellipse cx="113.7" cy="75" rx="24.3" ry="20.6" transform="rotate(-24 113.7 75)" fill="#7E2A12" filter="url(#b6)" opacity="0.35"/>
</g>
<g transform="translate(1314.2 1905.1)" clip-path="url(#cImg)">
<rect width="217" height="149.2" fill="#0A0A0E"/>
<g mask="url(#mTail)" opacity="1">
<path d="M211.5 23.6 C207.78 24.92 196.2 29.25 189.2 32.2 C182.2 35.15 176.05 39.12 169.5 41.3 C162.95 43.48 156.45 43.98 149.9 45.3 C143.35 46.62 136.77 48.12 130.2 49.2 C123.63 50.28 115.97 50.48 110.5 51.8 C105.03 53.12 100.68 55.57 97.4 57.1 C94.12 58.63 92.55 58.82 90.8 61 C89.05 63.18 88.65 66.7 86.9 70.2 C85.15 73.7 82.93 78.28 80.3 82 C77.67 85.72 74.17 89.87 71.1 92.5 C68.03 95.13 64.73 96.27 61.9 97.8 C59.07 99.33 55.73 99.52 54.1 101.7 C52.47 103.88 51.67 107.83 52.1 110.9 C52.53 113.97 54.62 117.58 56.7 120.1 C58.78 122.62 62.42 125.57 64.6 126 C66.78 126.43 68.72 124.35 69.8 122.7 C70.88 121.05 69.35 118.5 71.1 116.1 C72.85 113.7 77.02 110.7 80.3 108.3 C83.58 105.9 86.87 103.45 90.8 101.7 C94.73 99.95 99.52 99.12 103.9 97.8 C108.28 96.48 113.15 95.33 117.1 93.8 C121.05 92.27 124.33 91 127.6 88.6 C130.87 86.2 134.08 82.47 136.7 79.4 C139.32 76.33 140.88 73.27 143.3 70.2 C145.72 67.13 148.13 64.07 151.2 61 C154.27 57.93 158.2 54.63 161.7 51.8 C165.2 48.97 167.62 46.95 172.2 44 C176.78 41.05 182.65 37.38 189.2 34.1 C195.75 30.82 207.78 26.05 211.5 24.3 C215.22 22.55 215.22 22.28 211.5 23.6Z" fill="#7A1E08" filter="url(#b6)" opacity="0.55"/>
<path d="M211.5 23.6 C207.78 24.92 196.2 29.25 189.2 32.2 C182.2 35.15 176.05 39.12 169.5 41.3 C162.95 43.48 156.45 43.98 149.9 45.3 C143.35 46.62 136.77 48.12 130.2 49.2 C123.63 50.28 115.97 50.48 110.5 51.8 C105.03 53.12 100.68 55.57 97.4 57.1 C94.12 58.63 92.55 58.82 90.8 61 C89.05 63.18 88.65 66.7 86.9 70.2 C85.15 73.7 82.93 78.28 80.3 82 C77.67 85.72 74.17 89.87 71.1 92.5 C68.03 95.13 64.73 96.27 61.9 97.8 C59.07 99.33 55.73 99.52 54.1 101.7 C52.47 103.88 51.67 107.83 52.1 110.9 C52.53 113.97 54.62 117.58 56.7 120.1 C58.78 122.62 62.42 125.57 64.6 126 C66.78 126.43 68.72 124.35 69.8 122.7 C70.88 121.05 69.35 118.5 71.1 116.1 C72.85 113.7 77.02 110.7 80.3 108.3 C83.58 105.9 86.87 103.45 90.8 101.7 C94.73 99.95 99.52 99.12 103.9 97.8 C108.28 96.48 113.15 95.33 117.1 93.8 C121.05 92.27 124.33 91 127.6 88.6 C130.87 86.2 134.08 82.47 136.7 79.4 C139.32 76.33 140.88 73.27 143.3 70.2 C145.72 67.13 148.13 64.07 151.2 61 C154.27 57.93 158.2 54.63 161.7 51.8 C165.2 48.97 167.62 46.95 172.2 44 C176.78 41.05 182.65 37.38 189.2 34.1 C195.75 30.82 207.78 26.05 211.5 24.3 C215.22 22.55 215.22 22.28 211.5 23.6Z" fill="#C33C17" filter="url(#b2)"/>
<ellipse cx="88" cy="92" rx="13" ry="9" fill="#EE4A22" filter="url(#b6)" opacity="0.8" transform="rotate(-35 88 92)"/>
<ellipse cx="66" cy="110" rx="10" ry="8" fill="#E04A22" filter="url(#b6)" opacity="0.45"/>
<g clip-path="url(#cCell)" opacity="0.16" style="mix-blend-mode:screen"><rect width="217" height="149.2" filter="url(#grain)"/></g>
</g>
<ellipse cx="113.7" cy="75" rx="24.3" ry="20.6" transform="rotate(-24 113.7 75)" fill="#7A5DE2" filter="url(#b1)"/>
<g clip-path="url(#cNuc)" opacity="0.14" style="mix-blend-mode:screen"><rect width="217" height="149.2" filter="url(#grain)"/></g>
<ellipse cx="116" cy="72" rx="12" ry="8" fill="#6A62F0" filter="url(#b2)" opacity="0.6" transform="rotate(-24 116 72)"/>
</g>
</g>
<g id="panelI">
<text transform="translate(1591.16 1555.8) scale(0.9344 1)" font-size="79.71" font-weight="bold" fill="#000">I</text>
<text transform="translate(1753.98 1618.8) scale(1.0227 1)" font-size="33.33" font-weight="bold" fill="#000">RKO</text>
<text transform="translate(1562.6 1907.16) rotate(-90) scale(1.2008 1)" font-size="27.6" font-weight="normal" fill="#000" stroke="#000" stroke-width="0.6" stroke-linejoin="round">% (Total)</text>
<line x1="1679.2" y1="1718.2" x2="1679.2" y2="1734.3" stroke="#000" stroke-width="5"/>
<line x1="1660.7" y1="1718.2" x2="1697.7" y2="1718.2" stroke="#000" stroke-width="5"/>
<path d="M1641.4 2022.3 V1734.8 H1717 V2022.3" fill="#EE9D49" stroke="#000" stroke-width="5"/>
<path d="M1641.4 2022.3 V1944.8 H1717 V2022.3" fill="#808180" stroke="#000" stroke-width="5"/>
<line x1="1679.2" y1="1930.7" x2="1679.2" y2="1944.8" stroke="#000" stroke-width="5"/>
<line x1="1660.7" y1="1930.7" x2="1697.7" y2="1930.7" stroke="#000" stroke-width="5"/>
<line x1="1679.2" y1="2022.3" x2="1679.2" y2="2033.2" stroke="#000" stroke-width="3.9"/>
<line x1="1792" y1="1726.6" x2="1792" y2="1734.3" stroke="#000" stroke-width="5"/>
<line x1="1773.5" y1="1726.6" x2="1810.5" y2="1726.6" stroke="#000" stroke-width="5"/>
<path d="M1754.2 2022.3 V1734.8 H1829.8 V2022.3" fill="#EE9D49" stroke="#000" stroke-width="5"/>
<path d="M1754.2 2022.3 V1789.3 H1829.8 V2022.3" fill="#808180" stroke="#000" stroke-width="5"/>
<line x1="1792" y1="1775.2" x2="1792" y2="1789.3" stroke="#000" stroke-width="5"/>
<line x1="1773.5" y1="1775.2" x2="1810.5" y2="1775.2" stroke="#000" stroke-width="5"/>
<line x1="1792" y1="2022.3" x2="1792" y2="2033.2" stroke="#000" stroke-width="3.9"/>
<line x1="1905.5" y1="1720.7" x2="1905.5" y2="1734.3" stroke="#000" stroke-width="5"/>
<line x1="1887" y1="1720.7" x2="1924" y2="1720.7" stroke="#000" stroke-width="5"/>
<path d="M1867.7 2022.3 V1734.8 H1943.3 V2022.3" fill="#EE9D49" stroke="#000" stroke-width="5"/>
<path d="M1867.7 2022.3 V1881.2 H1943.3 V2022.3" fill="#808180" stroke="#000" stroke-width="5"/>
<line x1="1905.5" y1="1870.2" x2="1905.5" y2="1881.2" stroke="#000" stroke-width="5"/>
<line x1="1887" y1="1870.2" x2="1924" y2="1870.2" stroke="#000" stroke-width="5"/>
<line x1="1905.5" y1="2022.3" x2="1905.5" y2="2033.2" stroke="#000" stroke-width="3.9"/>
<text transform="translate(1629.2 2059.4) scale(0.9772 1)" font-size="28.12" font-weight="bold" fill="#000">GAPDH</text>
<text transform="translate(1774.32 2059.4) scale(0.9947 1)" font-size="28.12" font-weight="bold" fill="#000">U6</text>
<text transform="translate(1835.43 2059.4) scale(0.9664 1)" font-size="28.12" font-weight="bold" fill="#000">LINC02418</text>
<line x1="1622.1" y1="1659.85" x2="1622.1" y2="2024.25" stroke="#000" stroke-width="3.9"/>
<line x1="1612.7" y1="1661.8" x2="1622.1" y2="1661.8" stroke="#000" stroke-width="3.9"/>
<text transform="translate(1563.12 1671.2)" font-size="27" font-weight="bold" fill="#000">125</text>
<line x1="1612.7" y1="1733.9" x2="1622.1" y2="1733.9" stroke="#000" stroke-width="3.9"/>
<text transform="translate(1563.39 1743.3)" font-size="27" font-weight="bold" fill="#000">100</text>
<line x1="1612.7" y1="1806" x2="1622.1" y2="1806" stroke="#000" stroke-width="3.9"/>
<text transform="translate(1578.11 1815.4)" font-size="27" font-weight="bold" fill="#000">75</text>
<line x1="1612.7" y1="1878.1" x2="1622.1" y2="1878.1" stroke="#000" stroke-width="3.9"/>
<text transform="translate(1578.51 1887.5)" font-size="27" font-weight="bold" fill="#000">50</text>
<line x1="1612.7" y1="1950.2" x2="1622.1" y2="1950.2" stroke="#000" stroke-width="3.9"/>
<text transform="translate(1578.11 1959.6)" font-size="27" font-weight="bold" fill="#000">25</text>
<line x1="1612.7" y1="2022.3" x2="1622.1" y2="2022.3" stroke="#000" stroke-width="3.9"/>
<text transform="translate(1593.5 2031.7)" font-size="27" font-weight="bold" fill="#000">0</text>
<line x1="1612.7" y1="2022.3" x2="1964" y2="2022.3" stroke="#000" stroke-width="3.9"/>
<rect x="1629.4" y="1640.2" width="39" height="14.8" fill="#EE9D49" stroke="#000" stroke-width="4.8"/>
<rect x="1629.4" y="1676" width="39" height="14.8" fill="#808180" stroke="#000" stroke-width="4.8"/>
<text transform="translate(1689.54 1654.9) scale(0.9828 1)" font-size="22" font-weight="bold" fill="#1c1c1c">Cytoplasmic expression</text>
<text transform="translate(1688.97 1690.6) scale(0.997 1)" font-size="22" font-weight="bold" fill="#1c1c1c">Nuclear expression</text>
</g>
</svg>
</body>
</html>
